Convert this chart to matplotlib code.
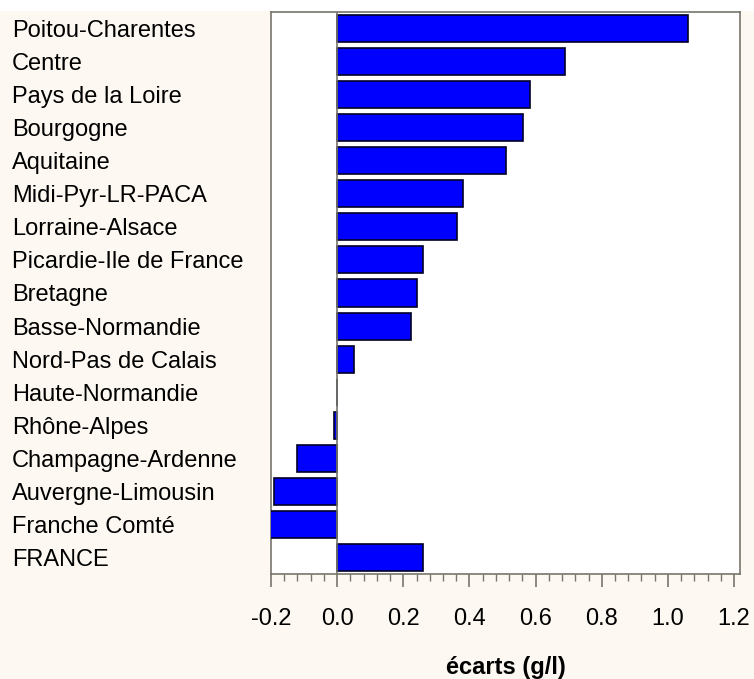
import matplotlib
matplotlib.use("Agg")
import matplotlib.pyplot as plt
from matplotlib.ticker import MultipleLocator, AutoMinorLocator, FormatStrFormatter
from matplotlib.patches import Rectangle

# Données : écarts par région (g/l)
regions = ["Poitou-Charentes", "Centre", "Pays de la Loire", "Bourgogne", "Aquitaine",
           "Midi-Pyr-LR-PACA", "Lorraine-Alsace", "Picardie-Ile de France", "Bretagne",
           "Basse-Normandie", "Nord-Pas de Calais", "Haute-Normandie", "Rhône-Alpes",
           "Champagne-Ardenne", "Auvergne-Limousin", "Franche Comté", "FRANCE"]
ecarts = [1.06, 0.69, 0.583, 0.562, 0.512, 0.381, 0.361, 0.261, 0.242,
          0.222, 0.051, 0.0, -0.009, -0.12, -0.19, -0.21, 0.261]

fond = "#fdf9f2"
gris = "#77756c"
police = "Liberation Sans"

fig = plt.figure(figsize=(7.54, 6.79), dpi=100, facecolor=fond)
fig.patches.append(Rectangle((0, 1 - 11 / 679), 1, 11 / 679, transform=fig.transFigure,
                             facecolor="white", edgecolor="none", zorder=0))
ax = fig.add_axes([271 / 754, 1 - 574 / 679, 469 / 754, 562 / 679])
ax.set_facecolor("white")

pos = list(range(len(regions)))
ax.barh(pos, ecarts, height=0.82, color="#0000ff", edgecolor="#000028", linewidth=1.2, zorder=3)
ax.axvline(0, color=gris, linewidth=1.2, zorder=4)

ax.set_ylim(len(regions) - 0.5, -0.5)
ax.set_xlim(-0.2, 1.218)

ax.set_yticks(pos)
ax.set_yticklabels(regions, fontsize=17, family=police, ha="left")
ax.tick_params(axis="y", length=0, pad=186.5)

ax.xaxis.set_major_locator(MultipleLocator(0.2))
ax.xaxis.set_minor_locator(AutoMinorLocator(5))
ax.xaxis.set_major_formatter(FormatStrFormatter("%.1f"))
ax.tick_params(axis="x", which="major", length=9.4, width=1.2, color=gris, pad=15, labelsize=17)
ax.tick_params(axis="x", which="minor", length=5, width=1, color=gris)
for lab in ax.get_xticklabels():
    lab.set_family(police)

for s in ax.spines.values():
    s.set_color(gris)
    s.set_linewidth(1.2)

ax.set_xlabel("écarts (g/l)", fontsize=17, fontweight="bold", family=police, labelpad=19)

fig.savefig("out.png", dpi=100, facecolor=fond)
